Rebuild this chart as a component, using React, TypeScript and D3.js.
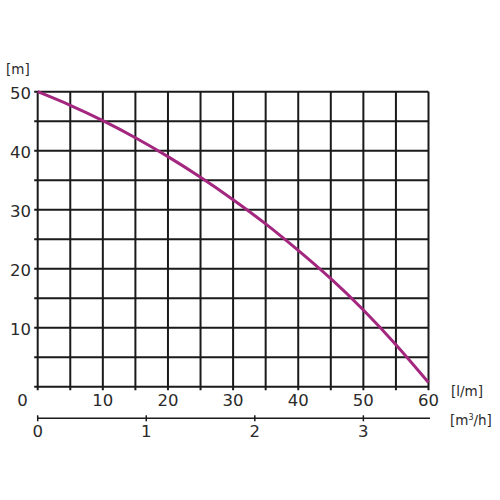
import React from "react";
import * as d3 from "d3";

const flowLpm = [0, 5, 10, 15, 20, 25, 30, 35, 40, 45, 50, 55, 60];
const headM = [50, 47.7, 45.1, 42.2, 39.0, 35.5, 31.7, 27.6, 23.1, 18.3, 13.0, 7.1, 0.7];
const yTickLabels = [10, 20, 30, 40, 50];
const xTickLabels = [10, 20, 30, 40, 50, 60];
const m3hTicks = [0, 1, 2, 3];

export default function App() {
  const W = 500, H = 500;
  const x = d3.scaleLinear().domain([0, 60]).range([37.7, 428.5]);
  const y = d3.scaleLinear().domain([0, 50]).range([386.7, 91.7]);
  const xm = d3.scaleLinear().domain([0, 3.6]).range([37.7, 428.5]);
  const gridX = d3.range(0, 61, 5);
  const gridY = d3.range(0, 51, 5);
  const line = d3
    .line<number>()
    .x((_, i) => x(flowLpm[i]))
    .y((d) => y(d))
    .curve(d3.curveNatural);
  const font = "'DejaVu Sans', sans-serif";
  const txt = "#2a2a2a";
  const axisY2 = 418.3;
  return (
    <svg width={W} height={H} style={{ position: "absolute", left: 0, top: 0, background: "#fff" }}>
      <rect width={W} height={H} fill="#fff" />
      <g stroke="#1a1a1a" strokeWidth={2}>
        {gridX.map((v) => (
          <line key={"vx" + v} x1={x(v)} x2={x(v)} y1={y(50)} y2={y(0) + 3.5} />
        ))}
        {gridY.map((v) => (
          <line key={"hy" + v} x1={x(0) - 3.5} x2={x(60)} y1={y(v)} y2={y(v)} />
        ))}
      </g>
      <path d={line(headM) || ""} fill="none" stroke="#a3267f" strokeWidth={3} />
      <g fontFamily={font} fontSize={16.5} fill={txt}>
        {yTickLabels.map((v) => (
          <text key={"yl" + v} x={31} y={y(v) + 2.5} textAnchor="end" dominantBaseline="middle">
            {v}
          </text>
        ))}
        <text x={22.5} y={401.5} textAnchor="middle" dominantBaseline="middle">0</text>
        {xTickLabels.map((v) => (
          <text key={"xl" + v} x={x(v)} y={401.5} textAnchor="middle" dominantBaseline="middle">
            {v}
          </text>
        ))}
        {m3hTicks.map((v) => (
          <text key={"ml" + v} x={xm(v)} y={432} textAnchor="middle" dominantBaseline="middle">
            {v}
          </text>
        ))}
      </g>
      <g stroke="#1a1a1a" strokeWidth={1.5}>
        <line x1={xm(0)} x2={430} y1={axisY2} y2={axisY2} />
        {m3hTicks.map((v) => (
          <line key={"mt" + v} x1={xm(v)} x2={xm(v)} y1={axisY2 - 3} y2={axisY2 + 3} />
        ))}
      </g>
      <g fontFamily={font} fontSize={13.5} fill={txt}>
        <text x={6} y={70} dominantBaseline="middle">[m]</text>
        <text x={451} y={392} dominantBaseline="middle">[l/m]</text>
        <text x={450} y={420.5} dominantBaseline="middle">
          [m<tspan fontSize={8} dy={-4}>3</tspan>
          <tspan dy={4}>/h]</tspan>
        </text>
      </g>
    </svg>
  );
}
